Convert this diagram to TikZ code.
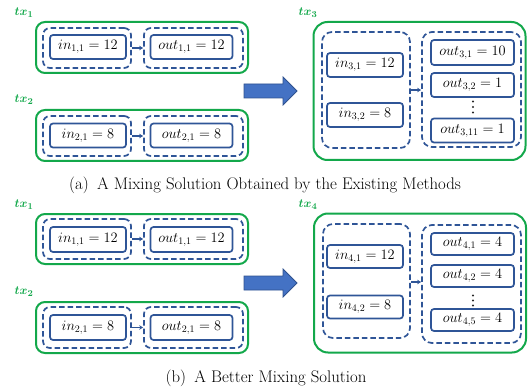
\documentclass[tikz,border=0pt]{standalone}
\usepackage{amsmath}
\usetikzlibrary{arrows.meta}
\definecolor{grn}{HTML}{13A84B}
\definecolor{dblue}{HTML}{2F5597}
\definecolor{afill}{HTML}{4472C4}
\definecolor{aline}{HTML}{2F528F}
\begin{document}
\begin{tikzpicture}[x=1pt,y=-1pt,
  gbox/.style={draw=grn, line width=2pt, rounded corners=9pt, inner sep=0pt},
  dbox/.style={draw=dblue, line width=1.7pt, dash pattern=on 5.5pt off 3pt, rounded corners=7pt, inner sep=0pt},
  vbox/.style={draw=dblue, line width=1.7pt, rounded corners=3pt, inner sep=0pt, font=\fontsize{14}{16}\selectfont},
  lbl/.style={text=grn, inner sep=0pt, font=\fontsize{12.5}{14}\selectfont\boldmath},
  con/.style={draw=dblue, line width=1.3pt, -{Stealth[length=4pt,width=4.5pt]}},
  bigarrow/.style={fill=afill, draw=aline, line width=0.8pt},
  captxt/.style={inner sep=0pt, font=\fontsize{16.8}{19}\selectfont},
  dotmark/.style={circle, fill=black!85, inner sep=0pt, minimum size=2.4pt}
]
\useasboundingbox (0,0) rectangle (529,387);

% ---------------- panel (a) ----------------
\node[lbl] (la1) at (24,13) {$tx_1$};
\node[gbox, minimum width=212, minimum height=51] (ga1) at (142,47.5) {};
\node[dbox, minimum width=88, minimum height=40] (da11) at (87,48) {};
\node[vbox, minimum width=76, minimum height=24] (ia11) at (88,47) {$in_{1,1}=12$};
\node[dbox, minimum width=99, minimum height=40] (da12) at (193.5,48) {};
\node[vbox, minimum width=82, minimum height=24] (oa11) at (191.5,47) {$out_{1,1}=12$};
\draw[con] (da11) -- (da12);

\node[lbl] (la2) at (24,100) {$tx_2$};
\node[gbox, minimum width=212, minimum height=51] (ga2) at (142,135.5) {};
\node[dbox, minimum width=88, minimum height=40] (da21) at (87,136) {};
\node[vbox, minimum width=76, minimum height=24] (ia21) at (88,135.5) {$in_{2,1}=8$};
\node[dbox, minimum width=99, minimum height=40] (da22) at (193.5,136) {};
\node[vbox, minimum width=82, minimum height=24] (oa21) at (191.5,135.5) {$out_{2,1}=8$};
\draw[con] (da21) -- (da22);

\draw[bigarrow] (244,84) -- (283,84) -- (283,77) -- (297,91) -- (283,105) -- (283,98) -- (244,98) -- cycle;

\node[lbl] (la3) at (308,13) {$tx_3$};
\node[gbox, rounded corners=14pt, minimum width=212, minimum height=138] (ga3) at (419.5,91) {};
\node[dbox, rounded corners=10pt, minimum width=88, minimum height=116] (da31) at (366,90) {};
\node[vbox, minimum width=76, minimum height=24] (ia31) at (365,65) {$in_{3,1}=12$};
\node[vbox, minimum width=76, minimum height=24] (ia32) at (365,115) {$in_{3,2}=8$};
\node[dbox, rounded corners=10pt, minimum width=99, minimum height=115] (da32) at (471.5,89.5) {};
\node[vbox, minimum width=83, minimum height=25] (oa31) at (472.5,52.5) {$out_{3,1}=10$};
\node[vbox, minimum width=83, minimum height=24] (oa32) at (472.5,85) {$out_{3,2}=1$};
\node[dotmark] (da1) at (473,101.5) {};
\node[dotmark] (da2) at (473,107) {};
\node[dotmark] (da3) at (473,112.5) {};
\node[vbox, minimum width=83, minimum height=24] (oa311) at (472.5,130.5) {$out_{3,11}=1$};
\draw[con] (da31.east) -- (da31.east -| da32.west);

\node[captxt] (capa) at (265,185) {(a)\hspace{0.5em}A Mixing Solution Obtained by the Existing Methods};

% ---------------- panel (b) ----------------
\node[lbl] (lb1) at (24,205) {$tx_1$};
\node[gbox, minimum width=212, minimum height=50] (gb1) at (142,239) {};
\node[dbox, minimum width=88, minimum height=40] (db11) at (87,239) {};
\node[vbox, minimum width=76, minimum height=25] (ib11) at (88,239.5) {$in_{1,1}=12$};
\node[dbox, minimum width=99, minimum height=40] (db12) at (193.5,239) {};
\node[vbox, minimum width=82, minimum height=25] (ob11) at (191.5,239.5) {$out_{1,1}=12$};
\draw[con] (db11) -- (db12);

\node[lbl] (lb2) at (24,292) {$tx_2$};
\node[gbox, minimum width=212, minimum height=51] (gb2) at (142,327.5) {};
\node[dbox, minimum width=88, minimum height=41] (db21) at (87,327.5) {};
\node[vbox, minimum width=76, minimum height=25] (ib21) at (88,327.5) {$in_{2,1}=8$};
\node[dbox, minimum width=99, minimum height=41] (db22) at (193.5,327.5) {};
\node[vbox, minimum width=82, minimum height=25] (ob21) at (191.5,327.5) {$out_{2,1}=8$};
\draw[con] (db21) -- (db22);

\draw[bigarrow] (244,276) -- (283,276) -- (283,269) -- (297,283) -- (283,297) -- (283,290) -- (244,290) -- cycle;

\node[lbl] (lb4) at (308,205) {$tx_4$};
\node[gbox, rounded corners=14pt, minimum width=212, minimum height=139] (gb4) at (420,283) {};
\node[dbox, rounded corners=10pt, minimum width=87, minimum height=114] (db41) at (366.5,281) {};
\node[vbox, minimum width=76, minimum height=23] (ib41) at (365,256.5) {$in_{4,1}=12$};
\node[vbox, minimum width=76, minimum height=23] (ib42) at (365,307) {$in_{4,2}=8$};
\node[dbox, rounded corners=10pt, minimum width=99, minimum height=118] (db42) at (471.5,284) {};
\node[vbox, minimum width=83, minimum height=22] (ob41) at (472.5,244) {$out_{4,1}=4$};
\node[vbox, minimum width=83, minimum height=22] (ob42) at (472.5,276) {$out_{4,2}=4$};
\node[dotmark] (db1) at (473,295.5) {};
\node[dotmark] (db2) at (473,300.5) {};
\node[dotmark] (db3) at (473,305.5) {};
\node[vbox, minimum width=83, minimum height=22] (ob45) at (472.5,320) {$out_{4,5}=4$};
\draw[con] (db41.east |- 0,282) -- (db42.west |- 0,282);

\node[captxt] (capb) at (266,378) {(b)\hspace{0.5em}A Better Mixing Solution};
\end{tikzpicture}
\end{document}
